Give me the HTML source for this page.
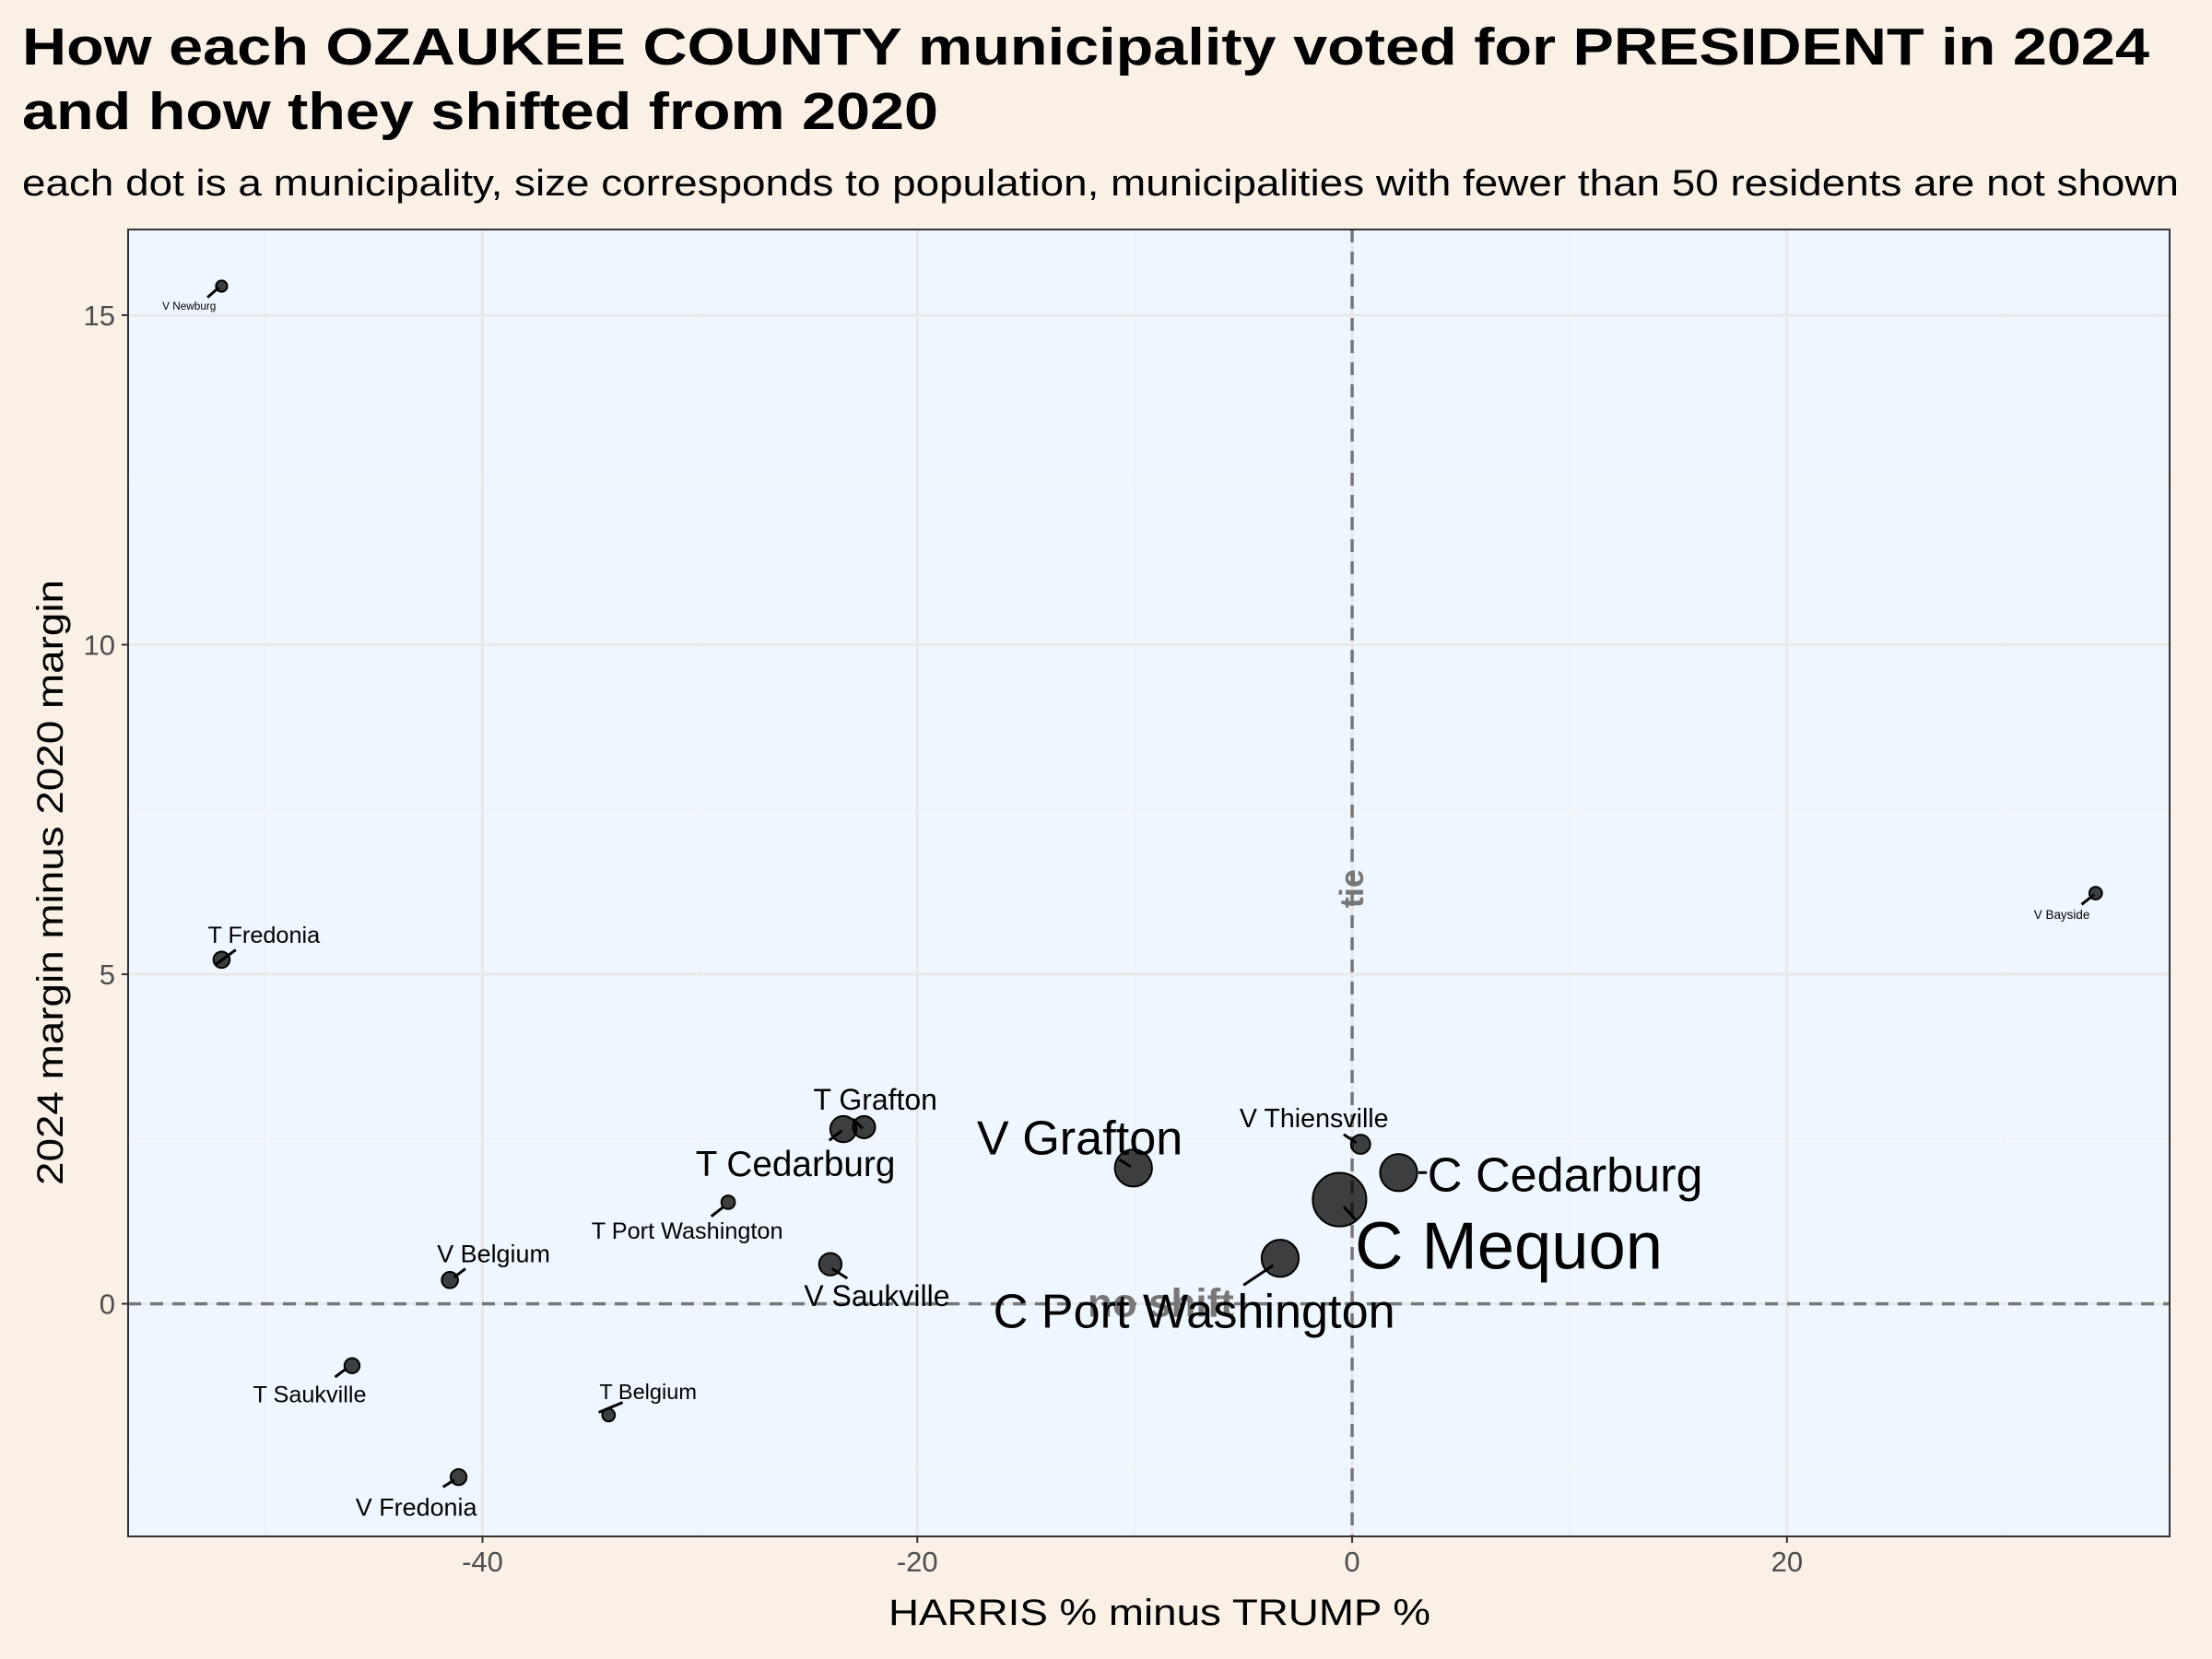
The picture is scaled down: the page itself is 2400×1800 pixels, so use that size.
<!DOCTYPE html>
<html><head><meta charset="utf-8"><style>
html,body{margin:0;padding:0;background:#faf0e6;}
svg{display:block;font-family:"Liberation Sans",sans-serif;}
</style></head><body>
<svg id="chart" width="2400" height="1800" viewBox="0 0 2400 1800" xmlns="http://www.w3.org/2000/svg">
<rect width="2400" height="1800" fill="#faf0e6"/>
<text x="24" y="70" font-size="57" font-weight="bold" fill="#000" textLength="2308" lengthAdjust="spacingAndGlyphs">How each OZAUKEE COUNTY municipality voted for PRESIDENT in 2024</text>
<text x="24" y="140" font-size="57" font-weight="bold" fill="#000" textLength="994" lengthAdjust="spacingAndGlyphs">and how they shifted from 2020</text>
<text x="24" y="212" font-size="40" fill="#000" textLength="2340" lengthAdjust="spacingAndGlyphs">each dot is a municipality, size corresponds to population, municipalities with fewer than 50 residents are not shown</text>
<g id="plot"></g>
</svg>
<script>
const names=["V Newburg","T Fredonia","V Bayside","T Grafton","T Cedarburg","V Grafton","V Thiensville","C Cedarburg","C Mequon","C Port Washington","T Port Washington","V Saukville","V Belgium","T Saukville","T Belgium","V Fredonia"];
const margin2024=[-52.0,-52.0,34.2,-22.45,-23.4,-10.06,0.39,2.14,-0.58,-3.31,-28.7,-24.0,-41.5,-46.0,-34.2,-41.1];
const shift=[15.44,5.22,6.23,2.68,2.65,2.06,2.42,1.99,1.58,0.69,1.54,0.60,0.36,-0.94,-1.69,-2.63];
const population=[1100,2300,1400,4300,6000,12000,3200,12000,25000,12000,1600,4400,2300,2000,1400,2200];
const xTicks=[-40,-20,0,20];
const yTicks=[0,5,10,15];
const xMinor=[-50,-30,-10,10,30];
const yMinor=[-2.5,2.5,7.5,12.5];

const S=1.5306;
const F=1.1;
const L=139,R=2354,T=249,B=1667;
const xMin=-56.3,xMax=37.6,yMin=-3.53,yMax=16.3;
const X=v=>L+(v-xMin)/(xMax-xMin)*(R-L);
const Y=v=>B-(v-yMin)/(yMax-yMin)*(B-T);
const ns="http://www.w3.org/2000/svg";
const g=document.getElementById('plot');
function mk(tag,attrs,parent){const e=document.createElementNS(ns,tag);for(const k in attrs)e.setAttribute(k,attrs[k]);(parent||g).appendChild(e);return e;}

const lab={
"V Newburg":[-23,14,7,[-10,8],[-2,1]],
"T Fredonia":[30,-18,15,[-5,4],[10,-7]],
"V Bayside":[-24,15,8,[-10,8],[-1,1]],
"T Grafton":[8,-20,19,[-8,-6],[-1,1]],
"T Cedarburg":[-34,24,23,[-10,8],[-1,1]],
"V Grafton":[-38,-22,31,[-10,-6],[-2,-1]],
"V Thiensville":[-33,-19,17,[-12,-7],[-3,-1]],
"C Cedarburg":[118,1,31,[14,0],[20,0]],
"C Mequon":[120,32,43,[3,5],[12,15]],
"C Port Washington":[-61,37,31,[-26,19],[-5,5]],
"T Port Washington":[-29,20,15,[-12,10],[-3,3]],
"V Saukville":[33,22,19,[1,3],[12,10]],
"V Belgium":[31,-19,16,[3,-2],[11,-8]],
"T Saukville":[-30,20,15,[-12,8],[-4,2]],
"T Belgium":[28,-17,14,[-7,-2],[10,-9]],
"V Fredonia":[-30,21,16,[-11,7],[-3,2]]
};

const panel=mk('rect',{x:L,y:T,width:R-L,height:B-T,fill:'#eef7ff'});


xMinor.forEach(v=>{const l=mk('line',{x1:X(v),x2:X(v),y1:T,y2:B,stroke:'#f2f2f2','stroke-width':1.5});

});
yMinor.forEach(v=>{const l=mk('line',{x1:L,x2:R,y1:Y(v),y2:Y(v),stroke:'#f2f2f2','stroke-width':1.5});

});
xTicks.forEach(v=>{const l=mk('line',{x1:X(v),x2:X(v),y1:T,y2:B,stroke:'#e8e8e8','stroke-width':3});


const tk=mk('line',{x1:X(v),x2:X(v),y1:B,y2:B+7,stroke:'#333','stroke-width':2});


const t=mk('text',{x:X(v),y:B+38,'font-size':31,'text-anchor':'middle',fill:'#4d4d4d'});t.textContent=v;

});
yTicks.forEach(v=>{const l=mk('line',{x1:L,x2:R,y1:Y(v),y2:Y(v),stroke:'#e8e8e8','stroke-width':3});


const tk=mk('line',{x1:L-7,x2:L,y1:Y(v),y2:Y(v),stroke:'#333','stroke-width':2});


const t=mk('text',{x:L-14,y:Y(v)+11,'font-size':31,'text-anchor':'end',fill:'#4d4d4d'});t.textContent=v;

});

const h0=mk('line',{x1:L,x2:R,y1:Y(0),y2:Y(0),stroke:'#777','stroke-width':3.5,'stroke-dasharray':'14,10'});


const v0=mk('line',{x1:X(0),x2:X(0),y1:T,y2:B,stroke:'#777','stroke-width':3.5,'stroke-dasharray':'14,10'});


const tie=mk('text',{x:0,y:0,'font-size':36,'font-weight':'bold',fill:'#777','text-anchor':'middle',transform:`translate(${X(0)+12},${Y(6.3)}) rotate(-90)`});tie.textContent='tie';


const nsh=mk('text',{x:X(-8.8),y:Y(0)+14,'font-size':44,'font-weight':'bold',fill:'#777','text-anchor':'middle'});nsh.textContent='no shift';



names.forEach((n,i)=>{
  const cx=X(margin2024[i]),cy=Y(shift[i]);
  const r=0.12*Math.sqrt(population[i])*S;
  const c=mk('circle',{cx:cx,cy:cy,r:r,fill:'rgba(0,0,0,0.75)',stroke:'#000','stroke-width':2});
  
  
});
names.forEach((n,i)=>{
  const cx=X(margin2024[i]),cy=Y(shift[i]);
  const o=lab[n];
  const s=mk('line',{x1:cx+o[3][0]*S,y1:cy+o[3][1]*S,x2:cx+o[4][0]*S,y2:cy+o[4][1]*S,stroke:'#000','stroke-width':3});
  
  
  const fs=o[2]*S*F;
  const t=mk('text',{x:cx+o[0]*S,y:cy+o[1]*S+fs*0.36,'font-size':fs,'text-anchor':'middle',fill:'#000'});
  t.textContent=n;
  
  
});

const border=mk('rect',{x:L,y:T,width:R-L,height:B-T,fill:'none',stroke:'#333','stroke-width':2});


const xt=mk('text',{x:964,y:1763,'font-size':40,fill:'#000',textLength:588,lengthAdjust:'spacingAndGlyphs'});xt.textContent='HARRIS % minus TRUMP %';


const yt=mk('text',{x:-328,y:0,'font-size':40,fill:'#000',textLength:657,lengthAdjust:'spacingAndGlyphs',transform:`translate(68,${(T+B)/2}) rotate(-90)`});yt.textContent='2024 margin minus 2020 margin';


</script>
</body></html>
